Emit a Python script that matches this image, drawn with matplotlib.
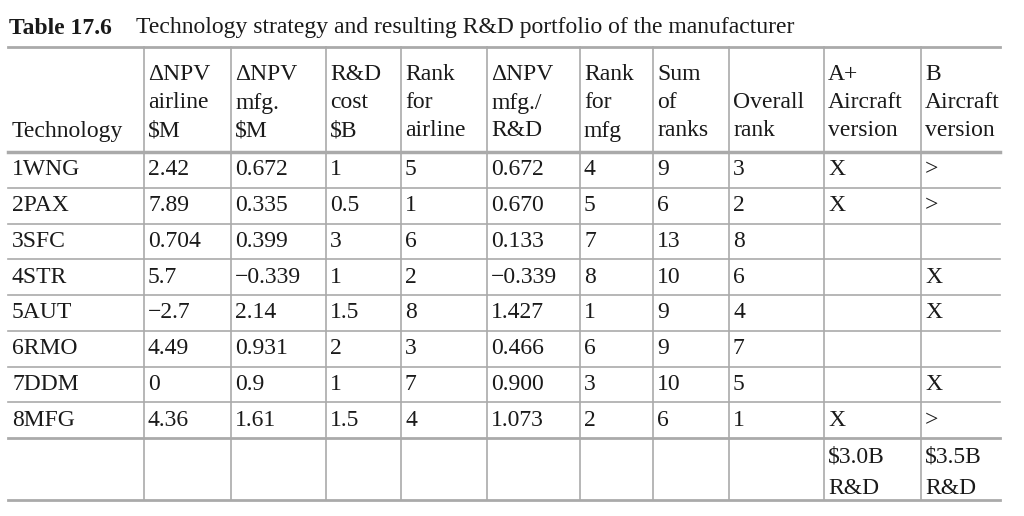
import matplotlib.pyplot as plt

technologies = ["1WNG", "2PAX", "3SFC", "4STR", "5AUT", "6RMO", "7DDM", "8MFG"]
npv_airline = ["2.42", "7.89", "0.704", "5.7", "\u22122.7", "4.49", "0", "4.36"]
npv_mfg = ["0.672", "0.335", "0.399", "\u22120.339", "2.14", "0.931", "0.9", "1.61"]
rd_cost = ["1", "0.5", "3", "1", "1.5", "2", "1", "1.5"]
rank_airline = ["5", "1", "6", "2", "8", "3", "7", "4"]
npv_per_rd = ["0.672", "0.670", "0.133", "\u22120.339", "1.427", "0.466", "0.900", "1.073"]
rank_mfg = ["4", "5", "7", "8", "1", "6", "3", "2"]
sum_ranks = ["9", "6", "13", "10", "9", "9", "10", "6"]
overall_rank = ["3", "2", "8", "6", "4", "7", "5", "1"]
a_plus = ["X", "X", "", "", "", "", "", "X"]
b_version = [">", ">", "", "X", "X", "", "X", ">"]
footer = ["", "", "", "", "", "", "", "", "", "$3.0B\nR&D", "$3.5B\nR&D"]

headers = ["Technology", "\u0394NPV\nairline\n$M", "\u0394NPV\nmfg.\n$M", "R&D\ncost\n$B",
           "Rank\nfor\nairline", "\u0394NPV\nmfg./\nR&D", "Rank\nfor\nmfg", "Sum\nof\nranks",
           "Overall\nrank", "A+\nAircraft\nversion", "B\nAircraft\nversion"]

columns = [technologies, npv_airline, npv_mfg, rd_cost, rank_airline, npv_per_rd,
           rank_mfg, sum_ranks, overall_rank, a_plus, b_version]

W, H = 1024, 516
fig = plt.figure(figsize=(W / 100, H / 100), dpi=100)
ax = fig.add_axes([0, 0, 1, 1])
ax.set_xlim(0, W)
ax.set_ylim(H, 0)
ax.axis("off")

font = dict(family="Liberation Serif", fontsize=17, color="#1a1a1a")
line_c = "#aaaaaa"

col_x = [8, 144, 231, 326, 401, 487, 580, 653, 729, 824, 921, 1000]
top, head_bot = 47, 152
row_h = 35.75
n = len(technologies)
body_bot = head_bot + n * row_h
bottom = 500

ax.text(9, 28, "Table 17.6", fontweight="bold", va="center", **font)
ax.text(136, 28, "Technology strategy and resulting R&D portfolio of the manufacturer",
        va="center", **font)

# horizontal rules
ax.plot([col_x[0], col_x[-1]], [top, top], color=line_c, lw=2)
ax.plot([col_x[0], col_x[-1]], [head_bot, head_bot], color=line_c, lw=2.5)
for i in range(1, n + 1):
    y = head_bot + i * row_h
    ax.plot([col_x[0], col_x[-1]], [y, y], color=line_c, lw=1.2 if i < n else 2)
ax.plot([col_x[0], col_x[-1]], [bottom, bottom], color=line_c, lw=2)

# vertical rules
for x in col_x[1:-1]:
    ax.plot([x, x], [top, bottom], color=line_c, lw=1.2)

# header
for j, h in enumerate(headers):
    lines = h.split("\n")
    for k, t in enumerate(lines):
        y = 131 - (len(lines) - 1 - k) * 28
        ax.text(col_x[j] + 4, y, t, va="center", **font)

# body
for j, col in enumerate(columns):
    for i, v in enumerate(col):
        ax.text(col_x[j] + 4, head_bot + (i + 0.5) * row_h, v, va="center", **font)

# footer
for j, v in enumerate(footer):
    for k, t in enumerate(v.split("\n") if v else []):
        ax.text(col_x[j] + 4, body_bot + 19 + k * 31, t, va="center", **font)

fig.savefig("out.png", dpi=100)
